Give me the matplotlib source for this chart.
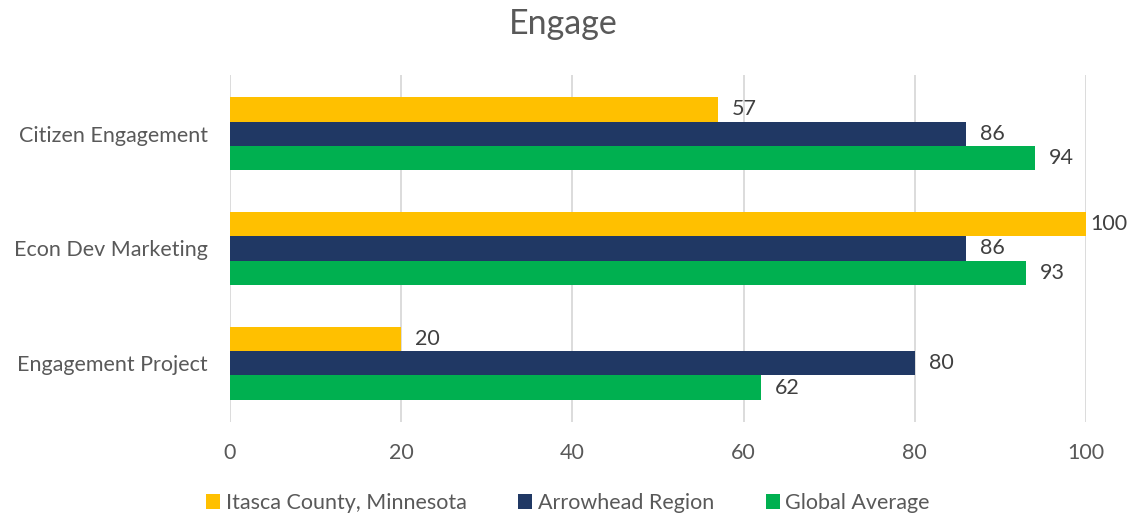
import matplotlib
matplotlib.use("Agg")
import matplotlib.pyplot as plt
import numpy as np

categories = ["Citizen Engagement", "Econ Dev Marketing", "Engagement Project"]
series_names = ["Itasca County, Minnesota", "Arrowhead Region", "Global Average"]
itasca = [57, 100, 20]
arrowhead = [86, 86, 80]
global_avg = [94, 93, 62]
xticks = [0, 20, 40, 60, 80, 100]

colors = ["#FFC000", "#203864", "#00B050"]
text_color = "#595959"
plt.rcParams['font.family'] = ['Lato', 'DejaVu Sans']

fig = plt.figure(figsize=(11.3, 5.17), dpi=100)
ax = fig.add_axes([230/1130, 1-422/517, (1086-230)/1130, (422-75)/517])

y = np.arange(len(categories))
h = 0.21
for i, (vals, name, c) in enumerate(zip([itasca, arrowhead, global_avg], series_names, colors)):
    pos = y + (i - 1) * h
    ax.barh(pos, vals, height=h, color=c, label=name, zorder=3)
    for p, v in zip(pos, vals):
        off = 4 if v >= 100 else 14
        ax.annotate(str(v), (v, p), xytext=(off, 0), textcoords="offset pixels",
                    va="center", ha="left", fontsize=15.5, color="#404040", clip_on=False)

ax.set_xlim(0, 100)
ax.set_ylim(2.5 + 0.01, -0.51)
ax.set_yticks(y)
ax.set_yticklabels(categories, fontsize=15.5, color=text_color)
ax.set_xticks(xticks)
ax.set_xticklabels([str(t) for t in xticks], fontsize=15.5, color=text_color)
ax.tick_params(axis='both', length=0)
ax.tick_params(axis='y', pad=16)
ax.tick_params(axis='x', pad=15)
ax.grid(axis='x', color="#D9D9D9", linewidth=1.3, zorder=0)
for s in ax.spines.values():
    s.set_visible(False)

fig.text(563/1130, 1-24/517, "Engage", ha="center", va="center", fontsize=24.5, color=text_color)

leg = fig.legend(loc="center", bbox_to_anchor=(568/1130, 1-503/517), ncol=3, frameon=False,
                 fontsize=15.5, handlelength=0.65, handleheight=0.65, handletextpad=0.25,
                 columnspacing=2.4)
for t in leg.get_texts():
    t.set_color(text_color)

fig.savefig("out.png", dpi=100)
